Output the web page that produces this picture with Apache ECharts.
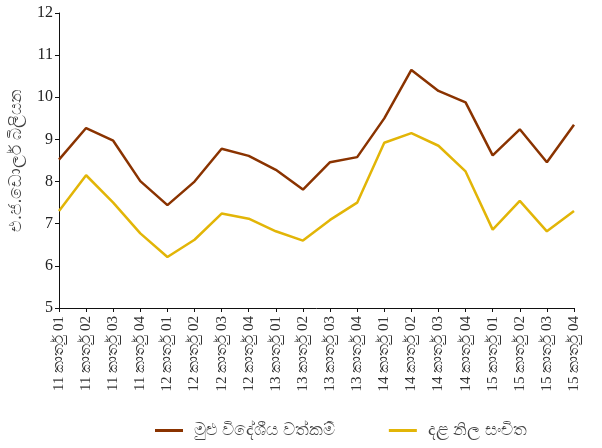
<!DOCTYPE html>
<html>
<head>
<meta charset="utf-8">
<script src="https://cdn.jsdelivr.net/npm/echarts@6/dist/echarts.min.js"></script>
<style>
  html, body { margin: 0; padding: 0; background: #fff; }
  #chart { width: 602px; height: 448px; }
</style>
</head>
<body>
<div id="chart"></div>
<script>
const quarters = [
  '11 කාර්තු 01', '11 කාර්තු 02', '11 කාර්තු 03', '11 කාර්තු 04',
  '12 කාර්තු 01', '12 කාර්තු 02', '12 කාර්තු 03', '12 කාර්තු 04',
  '13 කාර්තු 01', '13 කාර්තු 02', '13 කාර්තු 03', '13 කාර්තු 04',
  '14 කාර්තු 01', '14 කාර්තු 02', '14 කාර්තු 03', '14 කාර්තු 04',
  '15 කාර්තු 01', '15 කාර්තු 02', '15 කාර්තු 03', '15 කාර්තු 04'
]
const totalAssets = [8.52, 9.27, 8.97, 8.01, 7.44, 8.0, 8.78, 8.61, 8.28, 7.81, 8.46, 8.58, 9.5, 10.65, 10.15, 9.88, 8.62, 9.24, 8.46, 9.35]
const grossReserves = [7.3, 8.15, 7.5, 6.77, 6.21, 6.62, 7.24, 7.12, 6.82, 6.6, 7.09, 7.5, 8.92, 9.15, 8.85, 8.24, 6.86, 7.54, 6.82, 7.3]
const seriesNames = ['මුළු විදේශීය වත්කම්', 'දළ නිල සංචිත']
const yName = 'එ.ජ.ඩොලර් බිලියන'

const chart = echarts.init(document.getElementById('chart'))
chart.setOption({
  animation: false,
  color: ['#8a3300', '#e2b507'],
  grid: { left: 59, right: 28, top: 13, bottom: 140, containLabel: false },
  legend: {
    bottom: 4,
    left: 150,
    itemGap: 54,
    itemWidth: 28,
    itemHeight: 3,
    icon: 'rect',
    textStyle: { color: '#444', fontSize: 17, fontFamily: 'Noto Sans, sans-serif', padding: [0, 0, 0, 6] },
    data: seriesNames
  },
  xAxis: {
    type: 'category',
    data: quarters,
    boundaryGap: false,
    axisLine: { lineStyle: { color: '#111', width: 1 } },
    axisTick: { alignWithLabel: true, length: 4, lineStyle: { color: '#111' } },
    axisLabel: {
      rotate: 90,
      interval: 0,
      margin: 8,
      color: '#333',
      fontSize: 15,
      fontFamily: 'Liberation Serif, serif'
    }
  },
  yAxis: {
    type: 'value',
    min: 5,
    max: 12,
    interval: 1,
    name: yName,
    nameLocation: 'middle',
    nameGap: 34,
    nameTextStyle: { color: '#444', fontSize: 17, fontFamily: 'Noto Sans, sans-serif' },
    axisLine: { show: true, lineStyle: { color: '#111', width: 1 } },
    axisTick: { show: true, length: 4, lineStyle: { color: '#111' } },
    splitLine: { show: false },
    axisLabel: { color: '#222', fontSize: 16, margin: 6, fontFamily: 'Liberation Serif, serif' }
  },
  series: [
    { name: seriesNames[0], type: 'line', data: totalAssets, symbol: 'none', lineStyle: { width: 2.5 } },
    { name: seriesNames[1], type: 'line', data: grossReserves, symbol: 'none', lineStyle: { width: 2.5 } }
  ]
})
</script>
</body>
</html>
